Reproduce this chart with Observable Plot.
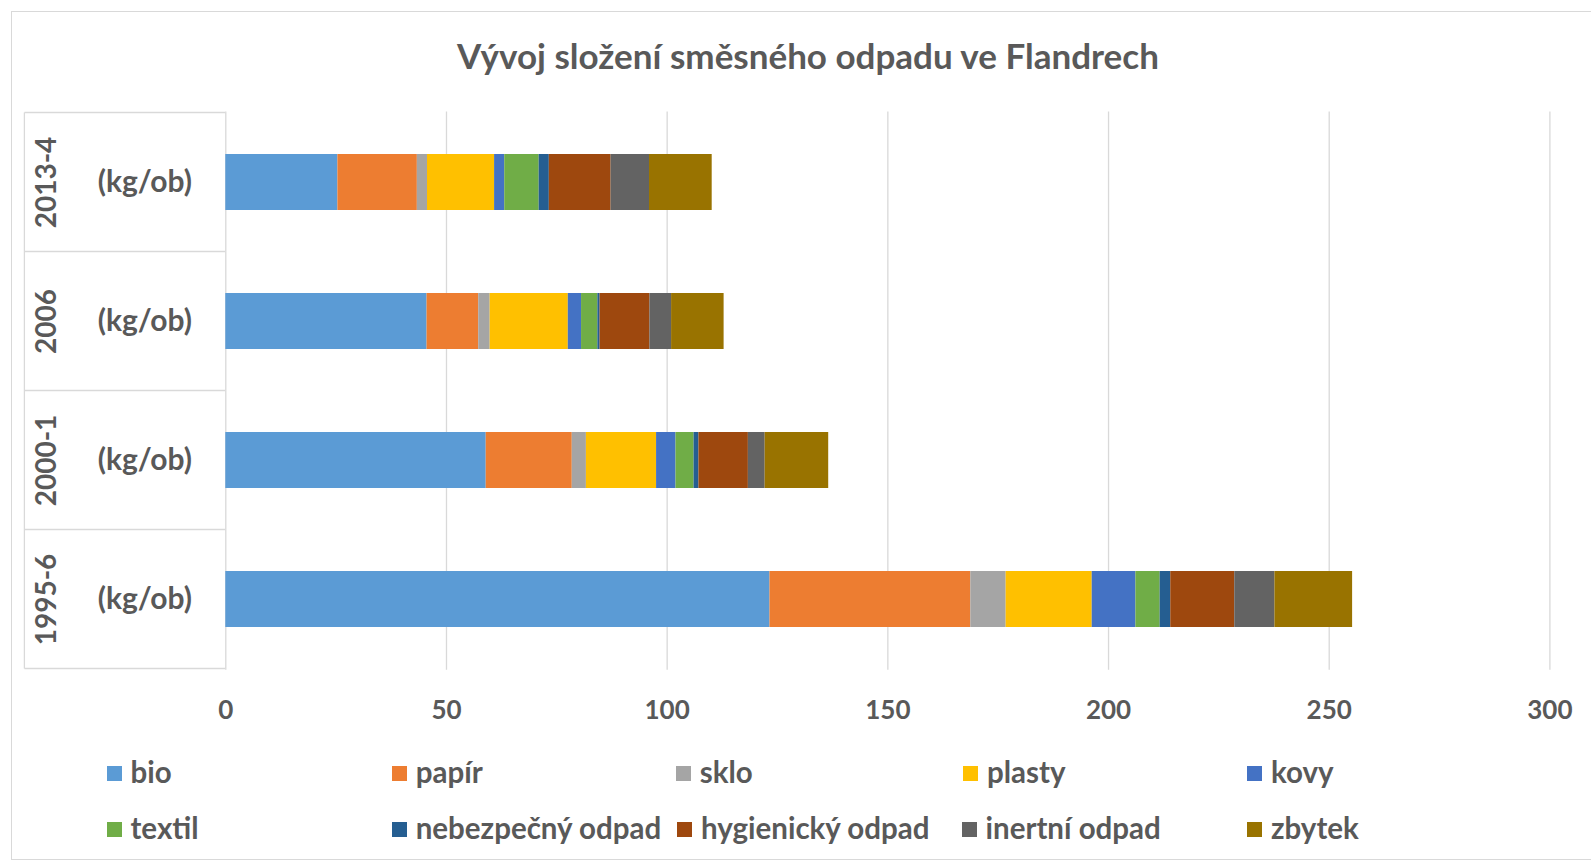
<!DOCTYPE html>
<html>
<head>
<meta charset="utf-8">
<script src="https://cdn.jsdelivr.net/npm/d3@7"></script>
<script src="https://cdn.jsdelivr.net/npm/@observablehq/plot@0.6"></script>
<style>
  html, body { margin: 0; padding: 0; background: #fff; }
  body { width: 1591px; height: 861px; position: relative; overflow: hidden; font-family: Lato, "Open Sans", sans-serif; color: #595959; }
  #frame { position: absolute; left: 11px; top: 11px; width: 1600px; height: 849px; border: 1px solid #d9d9d9; box-sizing: border-box; }
  #title { position: absolute; left: 0; width: 1616px; top: 34px; text-align: center; font-size: 35px; font-weight: bold; color: #595959; }
  #chart { position: absolute; left: 0; top: 100px; }
  .lg { position: absolute; font-size: 29.5px; font-weight: bold; color: #595959; white-space: nowrap; line-height: 1; }
  .lg span.sw { display: inline-block; width: 15px; height: 15px; margin-right: 9px; vertical-align: 2px; }
</style>
</head>
<body>
<div id="frame"></div>
<div id="title"></div>
<div id="chart"></div>
<div id="legend"></div>
<script>
// ---- data ----
const titleText = "Vývoj složení směsného odpadu ve Flandrech";
const periods = ["2013-4", "2006", "2000-1", "1995-6"];
const unitLabel = "(kg/ob)";
const categories = ["bio", "papír", "sklo", "plasty", "kovy", "textil", "nebezpečný odpad", "hygienický odpad", "inertní odpad", "zbytek"];
const colors = ["#5B9BD5", "#ED7D31", "#A5A5A5", "#FFC000", "#4472C4", "#70AD47", "#255E91", "#9E480E", "#636363", "#997300"];
// values per period, in the order of `periods`
const bio        = [25.4, 45.6, 59.0, 123.3];
const papir      = [18.0, 11.7, 19.5, 45.5];
const sklo       = [2.3, 2.6, 3.2, 8.0];
const plasty     = [15.2, 17.7, 15.9, 19.5];
const kovy       = [2.3, 3.0, 4.4, 9.9];
const textil     = [7.8, 3.7, 4.1, 5.5];
const nebezpecny = [2.3, 0.5, 1.1, 2.4];
const hygienicky = [14.0, 11.3, 11.2, 14.5];
const inertni    = [8.7, 4.9, 3.8, 9.1];
const zbytek     = [14.2, 11.9, 14.4, 17.6];
const xTicks = [0, 50, 100, 150, 200, 250, 300];

const series = [bio, papir, sklo, plasty, kovy, textil, nebezpecny, hygienicky, inertni, zbytek];
const rows = [];
categories.forEach((c, ci) => periods.forEach((p, pi) => rows.push({category: c, period: p, value: series[ci][pi]})));

document.getElementById("title").textContent = titleText;

const W = 1591, H = 640;
const textColor = "#595959";
const plot = Plot.plot({
  width: W,
  height: H,
  marginLeft: 225.3,
  marginRight: 41.6,
  marginTop: 11.6,
  marginBottom: 70.3,
  style: {fontFamily: "Lato, 'Open Sans', sans-serif", fontSize: "26px", fontWeight: "bold", color: textColor, background: "transparent"},
  x: {domain: [0, 300], ticks: xTicks, tickSize: 0, tickPadding: 30, label: null},
  y: {domain: periods, paddingInner: 0.6, paddingOuter: 0.3, axis: null},
  color: {domain: categories, range: colors},
  marks: [
    Plot.ruleX(xTicks, {stroke: "#d9d9d9", strokeWidth: 1.3}),
    Plot.barX(rows, {x: "value", y: "period", fill: "category", order: categories}),
    Plot.text(periods, {y: d => d, text: d => d, frameAnchor: "left", dx: -179, rotate: -90, fill: textColor, fontSize: 28, fontWeight: "bold", textAnchor: "middle"}),
    Plot.text(periods, {y: d => d, text: () => unitLabel, frameAnchor: "left", dx: -81, fill: textColor, fontSize: 30, fontWeight: "bold", textAnchor: "middle"})
  ]
});
document.getElementById("chart").appendChild(plot);

// category table lines (multi-level axis boxes)
const ys = plot.scale("y"), xs = plot.scale("x");
const x0 = xs.apply(0), xLeft = 24.4;
const svg = d3.select(plot);
const g = svg.append("g").attr("stroke", "#d9d9d9").attr("stroke-width", 1.3);
const bounds = [];
periods.forEach((p, i) => {
  const c = ys.apply(p) + ys.bandwidth / 2;
  if (i === 0) bounds.push(c - ys.step / 2);
  bounds.push(c + ys.step / 2);
});
bounds.forEach(b => g.append("line").attr("x1", xLeft).attr("x2", x0).attr("y1", b).attr("y2", b));
g.append("line").attr("x1", xLeft).attr("x2", xLeft).attr("y1", bounds[0]).attr("y2", bounds[bounds.length - 1]);

// legend
const legendPos = [
  [106.5, 773], [391.7, 773], [675.8, 773], [962.9, 773], [1247, 773],
  [106.5, 829], [391.7, 829], [677, 829], [961.5, 829], [1247, 829]
];
const lg = document.getElementById("legend");
categories.forEach((c, i) => {
  const d = document.createElement("div");
  d.className = "lg";
  d.style.left = legendPos[i][0] + "px";
  d.style.top = (legendPos[i][1] - 16) + "px";
  d.innerHTML = `<span class="sw" style="background:${colors[i]}"></span>`;
  d.appendChild(document.createTextNode(c));
  lg.appendChild(d);
});
</script>
</body>
</html>
